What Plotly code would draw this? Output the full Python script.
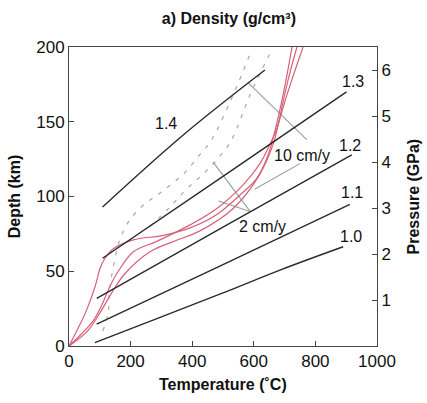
import plotly.graph_objects as go

# ---- density isolines (g/cm^3) : temperature (C) vs depth (km)
rho_labels = ["1.0", "1.1", "1.2", "1.3", "1.4"]
rho10_T = [84, 300, 500, 685, 890]
rho10_D = [2.2, 19.5, 35.5, 50.8, 66.4]
rho11_T = [90, 500, 912]
rho11_D = [14.7, 54.5, 94.8]
rho12_T = [90, 500, 918]
rho12_D = [31.9, 79.5, 127.8]
rho13_T = [109, 500, 901]
rho13_D = [58.7, 113.5, 170]
rho14_T = [109, 370, 636]
rho14_D = [93, 141, 184.6]

# ---- geotherms (red)
red1_T = [0, 30, 57, 85, 101, 115, 144, 209, 306, 393, 480, 555, 609, 645, 670, 695, 712, 724]
red1_D = [0, 12, 24, 40, 52, 58, 65, 71, 74, 79, 88, 101, 112, 127, 145, 168, 186, 200]
red2_T = [0, 40, 79, 110, 133, 160, 209, 285, 393, 480, 566, 620, 655, 674, 700, 730, 760]
red2_D = [0, 8, 17, 29, 40, 50, 63, 70, 81, 92, 108, 122, 136, 145, 163, 182, 200]
red3_T = [0, 60, 100, 140, 180, 263, 340, 425, 533, 620, 663, 676, 700, 720, 740]
red3_D = [0, 10, 22, 36, 48, 63, 70, 77, 92, 115, 135, 145, 168, 185, 200]

# ---- gray dashed geotherms
gray1_T = [110, 127, 132, 148, 165, 193, 240, 300, 371, 425, 463, 533, 593]
gray1_D = [10, 22, 38, 57, 71, 83, 94, 103, 115, 128, 138, 168, 198]
gray2_T = [263, 328, 382, 440, 490, 528, 588, 658]
gray2_D = [80, 93, 105, 116, 127, 138, 168, 198]

# ---- pointer lines for the labels
ptr_T = [[772, 582], [750, 604], [588, 468], [588, 485]]
ptr_D = [[138, 176], [122, 105], [90, 123], [90, 97]]
rate_labels = ["10 cm/y", "2 cm/y"]

# ---- pressure axis ticks
p_ticks = [1, 2, 3, 4, 5, 6]
km_per_gpa = 30.74

FONT = "Liberation Sans, Arial, sans-serif"
BLACK = "#2a2a2a"
RED = "#d6607a"
GRAY = "#a8a8a8"
PTR = "#8fa39a"

fig = go.Figure()

for T, D in [(gray1_T, gray1_D), (gray2_T, gray2_D)]:
    fig.add_trace(go.Scatter(x=T, y=D, mode="lines", line=dict(color=GRAY, width=1.2, dash="4px,7px"),
                             line_shape="spline", hoverinfo="skip", showlegend=False))

for T, D in zip(ptr_T, ptr_D):
    fig.add_trace(go.Scatter(x=T, y=D, mode="lines", line=dict(color=PTR, width=1.1),
                             hoverinfo="skip", showlegend=False))

for T, D in [(red1_T, red1_D), (red2_T, red2_D), (red3_T, red3_D)]:
    fig.add_trace(go.Scatter(x=T, y=D, mode="lines", line=dict(color=RED, width=1.2),
                             line_shape="spline", hoverinfo="skip", showlegend=False))

for T, D in [(rho10_T, rho10_D), (rho11_T, rho11_D), (rho12_T, rho12_D), (rho13_T, rho13_D), (rho14_T, rho14_D)]:
    fig.add_trace(go.Scatter(x=T, y=D, mode="lines", line=dict(color=BLACK, width=1.4),
                             line_shape="spline", hoverinfo="skip", showlegend=False))

# dummy trace for the pressure axis
fig.add_trace(go.Scatter(x=[None], y=[None], yaxis="y2", showlegend=False, hoverinfo="skip"))

# label positions (data coords)
rho_label_pos = [(917, 73), (919, 102.5), (912, 134), (922, 176.6), (315, 148.5)]
for txt, (tx, ty) in zip(rho_labels, rho_label_pos):
    fig.add_annotation(x=tx, y=ty, text=txt, showarrow=False, font=dict(family=FONT, size=16, color="#111"))
rate_pos = [(758, 127.4), (628, 80)]
for txt, (tx, ty) in zip(rate_labels, rate_pos):
    fig.add_annotation(x=tx, y=ty, text=txt, showarrow=False, font=dict(family=FONT, size=16, color="#111"))

# axis titles
fig.add_annotation(xref="paper", yref="paper", x=-0.176, y=0.5, xanchor="center", yanchor="middle",
                   text="<b>Depth (km)</b>", textangle=-90,
                   showarrow=False, font=dict(family=FONT, size=16, color="#111"))
fig.add_annotation(xref="paper", yref="paper", x=1.12, y=0.5, xanchor="center", yanchor="middle",
                   text="<b>Pressure (GPa)</b>", textangle=-90,
                   showarrow=False, font=dict(family=FONT, size=16, color="#111"))
fig.add_annotation(xref="paper", yref="paper", x=0.5, y=-0.13, xanchor="center", yanchor="middle",
                   text="<b>Temperature (˚C)</b>",
                   showarrow=False, font=dict(family=FONT, size=16, color="#111"))

axis_common = dict(showgrid=False, zeroline=False, showline=True, linecolor="#444", linewidth=1,
                   ticks="inside", ticklen=5, tickcolor="#444",
                   tickfont=dict(family=FONT, size=17, color="#111"))

fig.update_layout(
    width=427, height=403,
    margin=dict(l=69, r=50, t=47, b=57),
    paper_bgcolor="white", plot_bgcolor="white",
    title=dict(text="<b>a) Density (g/cm³)</b>", x=0.536, xref="container", xanchor="center",
               y=1 - 18 / 403, yref="container", yanchor="middle",
               font=dict(family=FONT, size=16, color="#111")),
    xaxis=dict(range=[0, 1000], tickvals=[0, 200, 400, 600, 800, 1000], mirror=True, **axis_common),
    yaxis=dict(range=[0, 200], tickvals=[0, 50, 100, 150, 200], mirror=True, **axis_common),
    yaxis2=dict(range=[0, 200 / km_per_gpa], tickvals=p_ticks, overlaying="y", side="right", **axis_common),
)

fig.write_html("out.html")
